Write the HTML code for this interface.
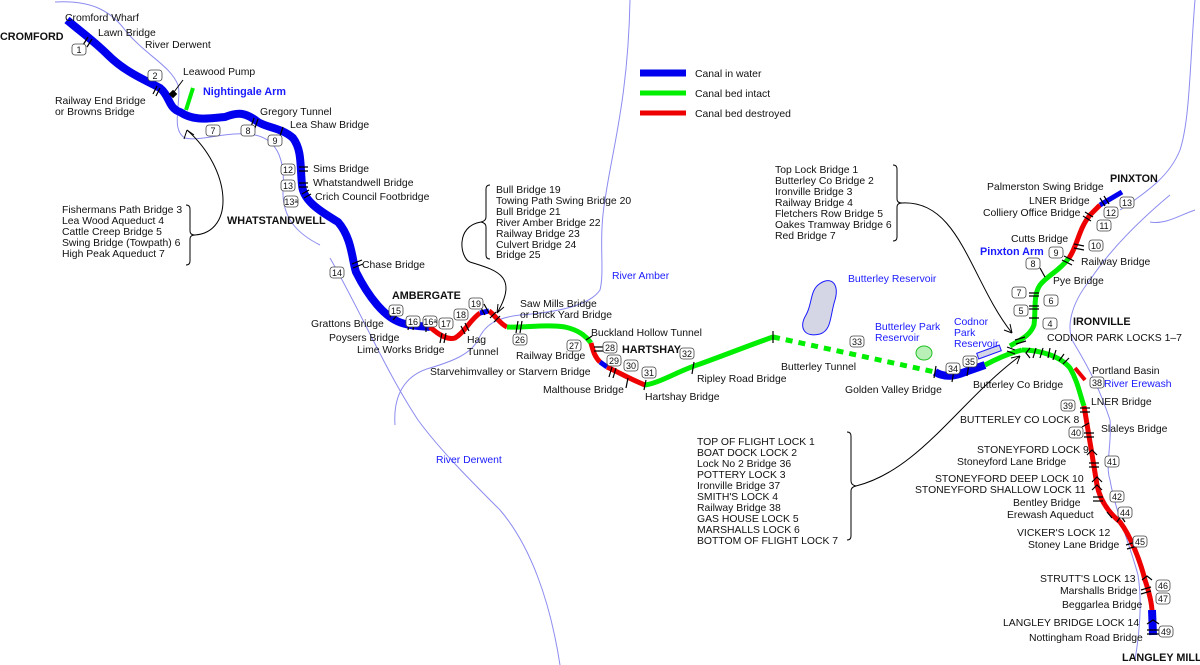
<!DOCTYPE html>
<html><head><meta charset="utf-8"><style>
html,body{margin:0;padding:0;background:#fff;}
svg{display:block;font-family:"Liberation Sans",Arial,sans-serif;}
text{font-size:10.4px;fill:#111;}
.b{font-weight:bold;font-size:10.8px;}
.bl{fill:#1a1aff;}
.riv{fill:none;stroke:#8c8cf0;stroke-width:1;}
.bd rect{fill:#fff;stroke:#444;stroke-width:0.8;}
.bd text{font-size:9px;text-anchor:middle;}
.tk{stroke:#000;stroke-width:1.2;fill:none;}
</style></head><body>
<svg width="1200" height="665" viewBox="0 0 1200 665" xmlns="http://www.w3.org/2000/svg">
<!-- rivers -->
<path class="riv" d="M55,2 C90,0 110,10 125,30 C145,55 170,65 178,85 C182,100 170,130 185,138 C200,142 230,130 255,135 C280,140 285,165 283,190 C282,220 300,235 320,245"/>
<path class="riv" d="M330,258 C360,310 385,370 418,420 C440,450 470,480 500,510 C530,545 550,600 560,665"/>
<path class="riv" d="M395,425 C393,395 405,375 430,368 C450,362 470,355 478,340 C485,325 495,318 520,315 C560,312 590,305 600,290 C605,270 598,240 605,200 C612,150 628,100 630,0"/>
<path class="riv" d="M1195,0 C1190,60 1190,120 1180,150 C1170,175 1150,190 1120,210"/>
<path class="riv" d="M1170,195 C1140,220 1110,250 1090,280 C1070,305 1065,330 1075,345 C1090,370 1100,390 1110,420 C1112,445 1105,465 1110,480 C1115,510 1130,545 1138,575 C1142,600 1140,630 1135,660"/>
<path class="riv" d="M1150,222 C1165,225 1180,215 1195,210"/>
<!-- reservoirs -->
<path d="M818,285 C830,275 840,283 835,300 C830,315 832,330 820,334 C805,338 798,328 806,315 C812,305 810,292 818,285Z" fill="#d4d6e6" stroke="#1a1aff" stroke-width="1"/>
<ellipse cx="924" cy="353" rx="8" ry="7" fill="#b8f0b8" stroke="#22c022" stroke-width="1"/>
<rect x="977" y="349" width="24" height="6" transform="rotate(-20 989 352)" fill="#d4d6e6" stroke="#1a1aff" stroke-width="1"/>
<!-- canal -->
<g fill="none" stroke-linecap="butt" stroke-linejoin="round">
<path d="M67,20 C85,35 95,42 108,55 C125,72 145,80 160,88 C170,96 168,108 180,112 C195,122 210,118 225,117 C238,112 245,112 258,122 C268,128 282,128 293,138 C302,150 300,165 302,185 C303,200 318,210 338,222 C352,238 352,260 356,272 C370,300 385,315 395,320 C405,326 420,326 430,327" stroke="#0000ee" stroke-width="8"/>
<path d="M430,327 C440,336 448,340 455,338 C465,332 470,320 480,313" stroke="#ee0000" stroke-width="5"/>
<path d="M480,313 L489,311" stroke="#0000ee" stroke-width="5"/>
<path d="M489,311 C495,315 500,324 507,327" stroke="#ee0000" stroke-width="5"/>
<path d="M507,327 C525,328 545,324 565,327 C578,330 585,335 591,343" stroke="#00ee00" stroke-width="5"/>
<path d="M591,343 C593,350 594,356 600,362" stroke="#ee0000" stroke-width="5"/>
<path d="M600,362 L607,367" stroke="#0000ee" stroke-width="5"/>
<path d="M607,367 C620,373 632,380 645,385" stroke="#ee0000" stroke-width="5"/>
<path d="M645,385 C660,383 680,370 700,364 C725,355 750,345 773,337" stroke="#00ee00" stroke-width="5"/>
<path d="M773,337 L935,372" stroke="#00ee00" stroke-width="5" stroke-dasharray="7,6"/>
<path d="M935,372 C945,378 955,376 965,372 L985,365" stroke="#0000ee" stroke-width="8"/>
<path d="M985,365 C1000,357 1010,353 1022,350" stroke="#00ee00" stroke-width="5"/>
<path d="M1010,346 C1020,340 1030,336 1034,325 C1036,310 1033,295 1040,285 C1048,275 1058,272 1069,258" stroke="#00ee00" stroke-width="5"/>
<path d="M1069,258 C1078,245 1078,230 1090,215 L1100,205" stroke="#ee0000" stroke-width="5"/>
<path d="M1100,205 L1122,192" stroke="#0000ee" stroke-width="5"/>
<path d="M1022,350 C1040,350 1060,356 1070,368 C1078,382 1080,395 1084,406" stroke="#00ee00" stroke-width="5"/>
<path d="M1075,368 L1085,380" stroke="#ee0000" stroke-width="4"/>
<path d="M1084,406 C1088,430 1093,460 1097,485 C1100,500 1108,512 1120,522 C1130,535 1140,560 1145,580 C1150,595 1152,605 1152,612" stroke="#ee0000" stroke-width="5"/>
<path d="M1152,610 L1153,635" stroke="#0000ee" stroke-width="8"/>
<path d="M193,88 L186,110" stroke="#00ee00" stroke-width="4"/>
</g>
<rect x="170" y="91" width="6" height="6" transform="rotate(45 173 94)" fill="#000"/>
<line x1="174" y1="92" x2="183" y2="80" stroke="#000"/>
<!-- bridge ticks -->
<g class="tk">
<path d="M88,37 l-5,8 M92,39 l-5,8"/><path d="M157,86 l-4,8 M160,88 l-4,8"/><path d="M254,118 l-3,9 M258,119 l-3,9"/>
<path d="M283,127 l-3,9"/><path d="M299,167 h9 M299,171 h9"/><path d="M299,183 h9 M299,187 h9"/><path d="M302,194 l7,-4 M304,198 l7,-4"/>
<path d="M352,264 l10,-4 M353,268 l10,-4"/><path d="M390,317 l6,-7 M393,320 l6,-7"/><path d="M410,318 l-2,12 M415,318 l-2,12"/>
<path d="M426,320 l0,12"/><path d="M442,333 l-2,10 M446,333 l-2,10"/><path d="M461,326 l4,8 M465,323 l4,8"/>
<path d="M480,306 l5,9 M484,304 l5,9"/><path d="M490,318 l6,-6 M494,322 l6,-6"/><path d="M518,321 l-2,12 M522,321 l-2,12"/>
<path d="M586,340 l6,-4 M594,347 h10 M594,351 h10"/><path d="M612,367 l-3,10 M616,368 l-3,10"/><path d="M628,378 l-2,10 M646,380 l-2,10"/>
<path d="M694,362 l-2,12"/><path d="M773,331 l0,12"/><path d="M936,366 l-2,12 M954,370 l-2,12 M969,364 l-2,12"/>
<path d="M1100,198 l5,8 M1104,196 l5,8"/><path d="M1085,212 l8,5 M1083,216 l8,5"/><path d="M1074,244 l10,2 M1074,248 l10,2"/><path d="M1064,256 l10,5 M1062,260 l10,5"/>
<path d="M1040,268 l5,9"/><path d="M1029,293 h10 M1029,296 h10 M1029,306 h10 M1029,309 h10 M1029,318 h10"/>
<path d="M1015,340 l10,-3 M1016,344 l10,-3 M1015,350 l-8,-3 M1015,354 l-8,-3"/>
<path d="M1030,348 l-4,5 l4,5 M1036,348 l-3,10 M1043,348 l-3,10 M1050,348 l-2,10 M1056,350 l-3,10 M1064,354 l-5,7 M1069,358 l-6,6"/>
<path d="M1080,408 h10 M1080,412 h10"/><path d="M1082,427 l7,-4 M1084,433 h10 M1084,437 h10"/><path d="M1087,455 l5,-5 l5,5 M1089,463 h10 M1089,467 h10"/>
<path d="M1092,482 l5,-5 l5,5 M1092,490 l5,-5 l5,5 M1093,497 h10 M1093,501 h10"/><path d="M1107,512 l5,6 M1120,513 l5,5"/>
<path d="M1117,522 l4,-6 l4,6 M1126,545 l10,-3 M1127,549 l10,-3"/><path d="M1142,580 l5,-4 l5,4 M1141,590 l10,-3 M1141,594 l10,-3"/>
<path d="M1147,624 l6,-4 l6,4 M1147,630 h12 M1147,634 h12"/>
</g>
<!-- braces and arrows -->
<g fill="none" stroke="#000" stroke-width="1">
<path d="M186,205 q4,0 4,4 v22 q0,4 5,4 q-5,0 -5,4 v22 q0,4 -4,4"/>
<path d="M195,235 C235,232 232,170 187,130"/><path d="M187,130 l-3,9 M187,130 l7,5"/>
<path d="M490,185 q-4,0 -4,4 v28 q0,4 -5,5 q5,1 5,5 v28 q0,4 4,4"/>
<path d="M481,222 C455,226 460,258 470,262 C495,270 520,275 497,313"/><path d="M497,313 l1,-9 M497,313 l7,-6"/>
<path d="M893,165 q4,0 4,4 v30 q0,4 5,4 q-5,0 -5,4 v30 q0,4 -4,4"/>
<path d="M902,203 C960,200 970,280 1012,333"/><path d="M1012,333 l-2,-9 M1012,333 l-8,-3"/>
<path d="M847,432 q4,0 4,4 v45 q0,4 5,5 q-5,1 -5,5 v45 q0,4 -4,4"/>
<path d="M856,486 C920,470 960,400 1020,356"/><path d="M1020,356 l-9,2 M1020,356 l-3,8"/>
</g>
<!-- legend -->
<line x1="640" y1="73" x2="686" y2="73" stroke="#0000ee" stroke-width="7"/>
<line x1="640" y1="93" x2="686" y2="93" stroke="#00ee00" stroke-width="5"/>
<line x1="640" y1="113" x2="686" y2="113" stroke="#ee0000" stroke-width="5"/>
<text x="695" y="77">Canal in water</text><text x="695" y="97">Canal bed  intact</text><text x="695" y="117">Canal bed destroyed</text>
<!-- badges -->
<g class="bd">
<g transform="translate(79,50)"><rect x="-7" y="-6" width="14" height="11" rx="3"/><text y="3">1</text></g>
<g transform="translate(155,76)"><rect x="-7" y="-6" width="14" height="11" rx="3"/><text y="3">2</text></g>
<g transform="translate(213,131)"><rect x="-7" y="-6" width="14" height="11" rx="3"/><text y="3">7</text></g>
<g transform="translate(248,131)"><rect x="-7" y="-6" width="14" height="11" rx="3"/><text y="3">8</text></g>
<g transform="translate(275,141)"><rect x="-7" y="-6" width="14" height="11" rx="3"/><text y="3">9</text></g>
<g transform="translate(288,170)"><rect x="-7" y="-6" width="14" height="11" rx="3"/><text y="3">12</text></g>
<g transform="translate(288,186)"><rect x="-7" y="-6" width="14" height="11" rx="3"/><text y="3">13</text></g>
<g transform="translate(291,202)"><rect x="-7" y="-6" width="14" height="11" rx="3"/><text y="3">13ᵃ</text></g>
<g transform="translate(337,273)"><rect x="-7" y="-6" width="14" height="11" rx="3"/><text y="3">14</text></g>
<g transform="translate(396,311)"><rect x="-7" y="-6" width="14" height="11" rx="3"/><text y="3">15</text></g>
<g transform="translate(413,322)"><rect x="-7" y="-6" width="14" height="11" rx="3"/><text y="3">16</text></g>
<g transform="translate(430,322)"><rect x="-7" y="-6" width="14" height="11" rx="3"/><text y="3">16ᵃ</text></g>
<g transform="translate(446,324)"><rect x="-7" y="-6" width="14" height="11" rx="3"/><text y="3">17</text></g>
<g transform="translate(461,315)"><rect x="-7" y="-6" width="14" height="11" rx="3"/><text y="3">18</text></g>
<g transform="translate(476,304)"><rect x="-7" y="-6" width="14" height="11" rx="3"/><text y="3">19</text></g>
<g transform="translate(520,340)"><rect x="-7" y="-6" width="14" height="11" rx="3"/><text y="3">26</text></g>
<g transform="translate(574,346)"><rect x="-7" y="-6" width="14" height="11" rx="3"/><text y="3">27</text></g>
<g transform="translate(610,348)"><rect x="-7" y="-6" width="14" height="11" rx="3"/><text y="3">28</text></g>
<g transform="translate(614,361)"><rect x="-7" y="-6" width="14" height="11" rx="3"/><text y="3">29</text></g>
<g transform="translate(631,366)"><rect x="-7" y="-6" width="14" height="11" rx="3"/><text y="3">30</text></g>
<g transform="translate(649,373)"><rect x="-7" y="-6" width="14" height="11" rx="3"/><text y="3">31</text></g>
<g transform="translate(687,354)"><rect x="-7" y="-6" width="14" height="11" rx="3"/><text y="3">32</text></g>
<g transform="translate(857,342)"><rect x="-7" y="-6" width="14" height="11" rx="3"/><text y="3">33</text></g>
<g transform="translate(953,369)"><rect x="-7" y="-6" width="14" height="11" rx="3"/><text y="3">34</text></g>
<g transform="translate(970,362)"><rect x="-7" y="-6" width="14" height="11" rx="3"/><text y="3">35</text></g>
<g transform="translate(1127,203)"><rect x="-7" y="-6" width="14" height="11" rx="3"/><text y="3">13</text></g>
<g transform="translate(1111,213)"><rect x="-7" y="-6" width="14" height="11" rx="3"/><text y="3">12</text></g>
<g transform="translate(1104,226)"><rect x="-7" y="-6" width="14" height="11" rx="3"/><text y="3">11</text></g>
<g transform="translate(1096,246)"><rect x="-7" y="-6" width="14" height="11" rx="3"/><text y="3">10</text></g>
<g transform="translate(1056,253)"><rect x="-7" y="-6" width="14" height="11" rx="3"/><text y="3">9</text></g>
<g transform="translate(1033,264)"><rect x="-7" y="-6" width="14" height="11" rx="3"/><text y="3">8</text></g>
<g transform="translate(1019,293)"><rect x="-7" y="-6" width="14" height="11" rx="3"/><text y="3">7</text></g>
<g transform="translate(1051,301)"><rect x="-7" y="-6" width="14" height="11" rx="3"/><text y="3">6</text></g>
<g transform="translate(1021,311)"><rect x="-7" y="-6" width="14" height="11" rx="3"/><text y="3">5</text></g>
<g transform="translate(1050,324)"><rect x="-7" y="-6" width="14" height="11" rx="3"/><text y="3">4</text></g>
<g transform="translate(1097,383)"><rect x="-7" y="-6" width="14" height="11" rx="3"/><text y="3">38</text></g>
<g transform="translate(1068,406)"><rect x="-7" y="-6" width="14" height="11" rx="3"/><text y="3">39</text></g>
<g transform="translate(1076,433)"><rect x="-7" y="-6" width="14" height="11" rx="3"/><text y="3">40</text></g>
<g transform="translate(1112,462)"><rect x="-7" y="-6" width="14" height="11" rx="3"/><text y="3">41</text></g>
<g transform="translate(1117,497)"><rect x="-7" y="-6" width="14" height="11" rx="3"/><text y="3">42</text></g>
<g transform="translate(1125,513)"><rect x="-7" y="-6" width="14" height="11" rx="3"/><text y="3">44</text></g>
<g transform="translate(1140,542)"><rect x="-7" y="-6" width="14" height="11" rx="3"/><text y="3">45</text></g>
<g transform="translate(1163,586)"><rect x="-7" y="-6" width="14" height="11" rx="3"/><text y="3">46</text></g>
<g transform="translate(1163,599)"><rect x="-7" y="-6" width="14" height="11" rx="3"/><text y="3">47</text></g>
<g transform="translate(1166,632)"><rect x="-7" y="-6" width="14" height="11" rx="3"/><text y="3">49</text></g>
</g>
<!-- labels -->
<text x="65" y="21">Cromford Wharf</text>
<text x="0" y="40" class="b">CROMFORD</text>
<text x="98" y="36">Lawn Bridge</text>
<text x="145" y="48">River Derwent</text>
<text x="183" y="75">Leawood Pump</text>
<text x="203" y="95" class="b bl">Nightingale Arm</text>
<text x="55" y="104">Railway End Bridge</text>
<text x="55" y="115">or Browns Bridge</text>
<text x="260" y="115">Gregory Tunnel</text>
<text x="290" y="128">Lea Shaw Bridge</text>
<text x="313" y="172">Sims Bridge</text>
<text x="313" y="186">Whatstandwell Bridge</text>
<text x="315" y="200">Crich Council Footbridge</text>
<text x="227" y="224" class="b">WHATSTANDWELL</text>
<text x="62" y="213">Fishermans Path Bridge 3</text>
<text x="62" y="224">Lea Wood Aqueduct 4</text>
<text x="62" y="235">Cattle Creep Bridge 5</text>
<text x="62" y="246">Swing Bridge (Towpath) 6</text>
<text x="62" y="257">High Peak Aqueduct 7</text>
<text x="362" y="268">Chase Bridge</text>
<text x="392" y="299" class="b">AMBERGATE</text>
<text x="311" y="327">Grattons Bridge</text>
<text x="329" y="341">Poysers Bridge</text>
<text x="357" y="353">Lime Works Bridge</text>
<text x="467" y="343">Hag</text><text x="467" y="355">Tunnel</text>
<text x="520" y="307">Saw Mills Bridge</text>
<text x="520" y="318">or Brick Yard Bridge</text>
<text x="496" y="193">Bull Bridge 19</text>
<text x="496" y="204">Towing Path Swing Bridge 20</text>
<text x="496" y="215">Bull Bridge 21</text>
<text x="496" y="226">River Amber Bridge 22</text>
<text x="496" y="237">Railway Bridge 23</text>
<text x="496" y="248">Culvert Bridge 24</text>
<text x="496" y="258">Bridge 25</text>
<text x="612" y="279" class="bl">River Amber</text>
<text x="436" y="463" class="bl">River Derwent</text>
<text x="591" y="336">Buckland Hollow Tunnel</text>
<text x="622" y="353" class="b">HARTSHAY</text>
<text x="516" y="359">Railway Bridge</text>
<text x="430" y="375">Starvehimvalley or Starvern Bridge</text>
<text x="543" y="393">Malthouse Bridge</text>
<text x="645" y="400">Hartshay Bridge</text>
<text x="697" y="382">Ripley Road Bridge</text>
<text x="781" y="370">Butterley Tunnel</text>
<text x="848" y="282" class="bl">Butterley Reservoir</text>
<text x="875" y="330" class="bl">Butterley Park</text>
<text x="875" y="341" class="bl">Reservoir</text>
<text x="954" y="325" class="bl">Codnor</text><text x="954" y="336" class="bl">Park</text><text x="954" y="347" class="bl">Reservoir</text>
<text x="845" y="393">Golden Valley Bridge</text>
<text x="973" y="388">Butterley Co Bridge</text>
<text x="775" y="173">Top Lock Bridge 1</text>
<text x="775" y="184">Butterley Co Bridge 2</text>
<text x="775" y="195">Ironville Bridge 3</text>
<text x="775" y="206">Railway Bridge 4</text>
<text x="775" y="217">Fletchers Row Bridge 5</text>
<text x="775" y="228">Oakes Tramway Bridge 6</text>
<text x="775" y="239">Red Bridge 7</text>
<text x="1110" y="182" class="b">PINXTON</text>
<text x="987" y="190">Palmerston Swing Bridge</text>
<text x="1029" y="204">LNER Bridge</text>
<text x="983" y="216">Colliery Office Bridge</text>
<text x="1011" y="242">Cutts Bridge</text>
<text x="980" y="255" class="b bl">Pinxton Arm</text>
<text x="1081" y="265">Railway Bridge</text>
<text x="1053" y="284">Pye Bridge</text>
<text x="1073" y="325" class="b">IRONVILLE</text>
<text x="1047" y="341">CODNOR PARK LOCKS 1–7</text>
<text x="1092" y="374">Portland Basin</text>
<text x="1104" y="387" class="bl">River Erewash</text>
<text x="1091" y="405">LNER Bridge</text>
<text x="960" y="423">BUTTERLEY CO LOCK 8</text>
<text x="1101" y="432">Slaleys Bridge</text>
<text x="977" y="453">STONEYFORD LOCK 9</text>
<text x="957" y="465">Stoneyford Lane Bridge</text>
<text x="935" y="482">STONEYFORD DEEP LOCK 10</text>
<text x="915" y="493">STONEYFORD SHALLOW LOCK 11</text>
<text x="1013" y="506">Bentley Bridge</text>
<text x="1007" y="518">Erewash Aqueduct</text>
<text x="1017" y="536">VICKER'S LOCK 12</text>
<text x="1028" y="548">Stoney Lane Bridge</text>
<text x="1040" y="582">STRUTT'S LOCK 13</text>
<text x="1060" y="594">Marshalls Bridge</text>
<text x="1062" y="608">Beggarlea Bridge</text>
<text x="1003" y="626">LANGLEY BRIDGE LOCK 14</text>
<text x="1029" y="641">Nottingham Road Bridge</text>
<text x="1122" y="661" class="b">LANGLEY MILL</text>
<text x="697" y="445">TOP OF FLIGHT LOCK 1</text>
<text x="697" y="456">BOAT DOCK LOCK 2</text>
<text x="697" y="467">Lock No 2 Bridge 36</text>
<text x="697" y="478">POTTERY LOCK 3</text>
<text x="697" y="489">Ironville Bridge 37</text>
<text x="697" y="500">SMITH'S LOCK 4</text>
<text x="697" y="511">Railway Bridge 38</text>
<text x="697" y="522">GAS HOUSE LOCK 5</text>
<text x="697" y="533">MARSHALLS LOCK 6</text>
<text x="697" y="544">BOTTOM OF FLIGHT LOCK 7</text>
</svg>
</body></html>
